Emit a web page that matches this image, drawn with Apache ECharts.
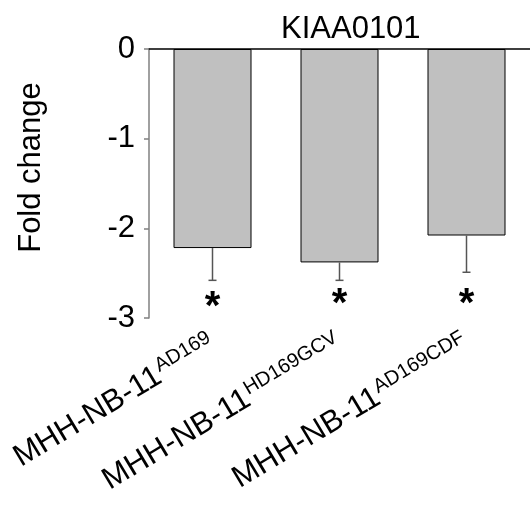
<!DOCTYPE html>
<html>
<head>
<meta charset="utf-8">
<script src="https://cdn.jsdelivr.net/npm/echarts@6/dist/echarts.min.js"></script>
<style>
html,body{margin:0;padding:0;background:#fff;}
#chart{width:530px;height:506px;}
</style>
</head>
<body>
<div id="chart"></div>
<script>
const chartTitle = 'KIAA0101';
const yAxisName = 'Fold change';
const labelMain = 'MHH-NB-11';
const categories = ['AD169', 'HD169GCV', 'AD169CDF'];
const foldChange = [-2.22, -2.38, -2.08];
const errorLow = [-2.58, -2.58, -2.49];
const sigMarks = ['*', '*', '*'];
const sigPos = [-2.89, -2.85, -2.85];
const yMin = -3, yMax = 0, yStep = 1;

const FONT = 'Liberation Sans, Arial, sans-serif';
const chart = echarts.init(document.getElementById('chart'));
chart.setOption({
  animation: false,
  backgroundColor: '#fff',
  title: {
    text: chartTitle,
    left: 276, top: 9,
    textStyle: {fontFamily: FONT, fontSize: 31, fontWeight: 'normal', color: '#000'}
  },
  grid: {left: 149, right: 0, top: 49, bottom: 188, containLabel: false},
  xAxis: [{
    type: 'category', data: categories, position: 'bottom',
    axisLine: {show: false}, axisTick: {show: false},
    axisLabel: {
      interval: 0, rotate: 31, margin: 24,
      formatter: v => '{m|' + labelMain + '}{s|' + v + '}',
      rich: {
        m: {fontFamily: FONT, fontSize: 31, color: '#000', lineHeight: 34},
        s: {fontFamily: FONT, fontSize: 20, color: '#000', verticalAlign: 'top', lineHeight: 20, padding: [0, 0, 0, 1]}
      }
    }
  }, {
    type: 'category', data: categories, position: 'top',
    axisLine: {show: true, onZero: false, lineStyle: {color: '#000', width: 1.5}},
    axisTick: {show: false}, axisLabel: {show: false}
  }],
  yAxis: {
    type: 'value', min: yMin, max: yMax, interval: yStep,
    name: yAxisName, nameLocation: 'middle', nameGap: 102, nameRotate: 90,
    nameTextStyle: {fontFamily: FONT, fontSize: 31, color: '#000', padding: [0, 0, 0, 32]},
    axisLine: {show: true, lineStyle: {color: '#808080', width: 1.5}},
    axisTick: {show: true, length: 5, lineStyle: {color: '#808080', width: 1.5}},
    splitLine: {show: false},
    axisLabel: {fontFamily: FONT, fontSize: 31, color: '#000', margin: 14}
  },
  series: [{
    type: 'bar', xAxisIndex: 0, data: foldChange, barWidth: 78,
    itemStyle: {color: '#c0c0c0', borderColor: '#000', borderWidth: 1}
  }, {
    type: 'custom', xAxisIndex: 0, z: 5,
    data: categories.map((c, i) => [i, foldChange[i], errorLow[i], sigPos[i]]),
    renderItem: function (params, api) {
      const top = api.coord([api.value(0), api.value(1)]);
      const lo = api.coord([api.value(0), api.value(2)]);
      const sg = api.coord([api.value(0), api.value(3)]);
      return {type: 'group', children: [
        {type: 'line', shape: {x1: top[0], y1: top[1], x2: lo[0], y2: lo[1]}, style: {stroke: '#555', lineWidth: 1.5}},
        {type: 'line', shape: {x1: lo[0] - 4, y1: lo[1], x2: lo[0] + 4, y2: lo[1]}, style: {stroke: '#555', lineWidth: 1.5}},
        {type: 'text', x: sg[0], y: sg[1], style: {text: sigMarks[params.dataIndex], fontFamily: FONT, fontSize: 40, fontWeight: 'bold', fill: '#000', align: 'center', verticalAlign: 'middle'}}
      ]};
    }
  }]
});
</script>
</body>
</html>
